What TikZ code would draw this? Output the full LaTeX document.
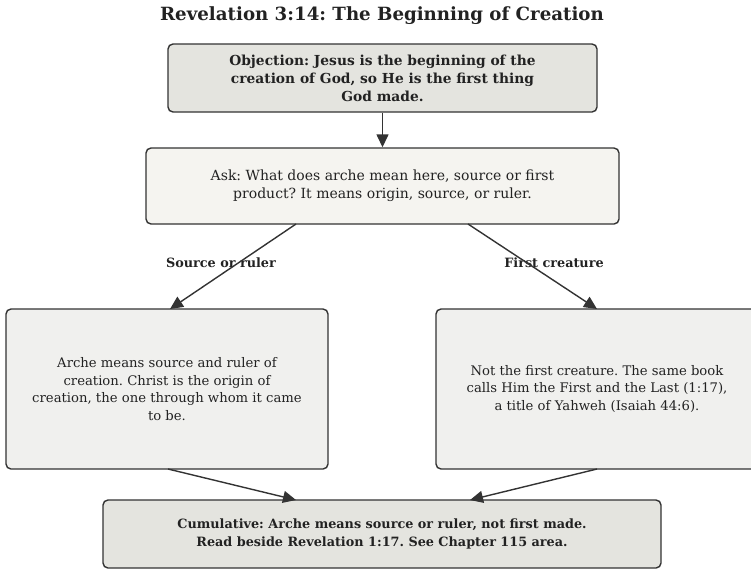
\documentclass[tikz,border=0pt]{standalone}
\usepackage{fontspec}
\setmainfont{DejaVu Serif}
\usetikzlibrary{arrows.meta}
\frenchspacing
\definecolor{edgecol}{HTML}{333333}
\definecolor{textcol}{HTML}{222222}
\definecolor{fillA}{HTML}{E4E4DF}
\definecolor{fillB}{HTML}{F5F4F0}
\definecolor{fillC}{HTML}{F0F0EE}
\tikzset{
  card/.style={draw=edgecol, line width=1.4pt, rounded corners=5pt, align=center,
    text=textcol, font=\fontsize{14}{18}\selectfont, inner sep=0pt},
  sidecard/.style={card, fill=fillC, minimum width=322pt, minimum height=160pt,
    font=\fontsize{13.2}{17.6}\selectfont},
  link/.style={draw=edgecol, line width=1.4pt, -{Triangle[length=13pt,width=12pt]}},
  tag/.style={text=textcol, font=\bfseries\fontsize{12.8}{15}\selectfont},
}
\begin{document}
\begin{tikzpicture}[x=1pt,y=-1pt]
\useasboundingbox (0,0) rectangle (751,568);
\node[text=textcol, font=\bfseries\fontsize{18.2}{22}\selectfont] (title) at (382,16) {Revelation 3:14: The Beginning of Creation};
\node[card, fill=fillA, minimum width=429pt, minimum height=68pt, font=\bfseries\fontsize{13.8}{18}\selectfont] (obj) at (382.5,78)
  {Objection: Jesus is the beginning of the\\creation of God, so He is the first thing\\God made.};
\node[card, fill=fillB, minimum width=473pt, minimum height=76pt] (ask) at (382.5,186)
  {Ask: What does arche mean here, source or first\\product? It means origin, source, or ruler.};
\node[sidecard] (src) at (167,389)
  {Arche means source and ruler of\\creation. Christ is the origin of\\creation, the one through whom it came\\to be.};
\node[sidecard] (first) at (597,389)
  {Not the first creature. The same book\\calls Him the First and the Last (1:17),\\a title of Yahweh (Isaiah 44:6).};
\node[card, fill=fillA, minimum width=558pt, minimum height=68pt, font=\bfseries\fontsize{12.8}{18}\selectfont] (cum) at (382,534)
  {Cumulative: Arche means source or ruler, not first made.\\Read beside Revelation 1:17. See Chapter 115 area.};
\coordinate (askL) at (296,224);
\coordinate (askR) at (468,224);
\coordinate (srcIn) at (170,309);
\coordinate (firstIn) at (597,309);
\coordinate (srcOut) at (168,469);
\coordinate (firstOut) at (597,469);
\coordinate (cumL) at (296,500);
\coordinate (cumR) at (470,500);
\draw[link] (obj.south) -- (ask.north);
\node[tag] (lblL) at (221,263) {Source or ruler};
\node[tag] (lblR) at (554,263) {First creature};
\draw[link] (askL) -- (srcIn);
\draw[link] (askR) -- (firstIn);
\draw[link] (srcOut) -- (cumL);
\draw[link] (firstOut) -- (cumR);
\end{tikzpicture}
\end{document}
